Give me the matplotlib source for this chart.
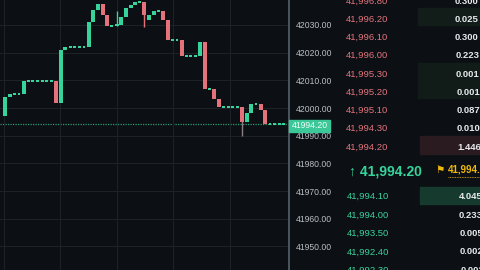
import numpy as np
import matplotlib
matplotlib.use('Agg')
import matplotlib.pyplot as plt
from matplotlib.patches import Rectangle
import matplotlib.transforms as mtransforms

# candle data (price)
opens = [41997.1, 42004.0, 42005.1, 42005.1, 42005.1, 42009.7, 42009.7, 42009.7, 42009.7, 42009.7,
         42009.7, 42009.7, 42001.8, 42020.9, 42022.0, 42022.0, 42022.0, 42022.0, 42022.0, 42031.0,
         42035.4, 42037.5, 42033.6, 42029.6, 42029.6, 42030.0, 42032.9, 42036.1, 42037.2, 42038.3,
         42038.3, 42031.8, 42033.6, 42035.0, 42035.0, 42031.8, 42024.5, 42024.5, 42024.5, 42018.8,
         42018.8, 42018.8, 42018.8, 42023.8, 42006.9, 42006.9, 42003.2, 42000.4, 42000.4, 42000.4,
         42000.4, 42000.4, 41994.9, 41998.2, 42001.4, 42001.4, 41999.3, 41994.2, 41994.2, 41994.2,
         41994.2]
closes = [42004.0, 42005.1, 42005.1, 42005.1, 42009.7, 42009.7, 42009.7, 42009.7, 42009.7, 42009.7,
          42009.7, 42001.8, 42020.9, 42022.0, 42022.0, 42022.0, 42022.0, 42022.0, 42031.0, 42035.4,
          42037.5, 42033.6, 42029.6, 42029.6, 42030.0, 42032.9, 42036.1, 42037.2, 42038.3, 42038.3,
          42033.6, 42033.6, 42035.0, 42035.0, 42031.8, 42024.5, 42024.5, 42024.5, 42018.8, 42018.8,
          42018.8, 42018.8, 42023.8, 42006.9, 42006.9, 42003.2, 42000.4, 42000.4, 42000.4, 42000.4,
          42000.4, 41994.9, 41998.2, 42001.4, 42001.4, 41999.3, 41994.2, 41994.2, 41994.2, 41994.2,
          41994.2]
# candles with visible wicks
wick_idx = [24, 30, 51]
wick_hi = [42035.0, 42038.3, 42000.4]
wick_lo = [42029.6, 42029.2, 41989.9]

last_price = 41994.20
axis_ticks = [41950, 41960, 41970, 41980, 41990, 42000, 42010, 42020, 42030]

ask_prices = ['41,996.80', '41,996.20', '41,996.10', '41,996.00', '41,995.30',
              '41,995.20', '41,995.10', '41,994.30', '41,994.20']
ask_sizes = ['0.300', '0.025', '0.300', '0.223', '0.001', '0.001', '0.087', '0.010', '1.446']
bid_prices = ['41,994.10', '41,994.00', '41,993.50', '41,992.40', '41,992.30']
bid_sizes = ['4.045', '0.233', '0.005', '0.002', '0.002']
mid_price = '↑ 41,994.20'
mark_price = '41,994.20'

BG = '#0c1014'
GREEN = '#38d39a'
RED = '#e3727b'
GRID = '#1c2226'
FONT = 'Liberation Sans'

W, H = 480, 270
fig = plt.figure(figsize=(4.8, 2.7), dpi=100, facecolor=BG)


def fx(x):
    return x / W


def fy(y):
    return 1 - y / H


ax = fig.add_axes([0, 0, fx(289), 1])
ax.set_facecolor(BG)

n = len(opens)
idx = np.arange(n)
o = np.array(opens)
c = np.array(closes)
up = c >= o
flat = np.abs(c - o) < 0.05
lo = np.minimum(o, c)
hgt = np.maximum(np.abs(c - o), 0.6)
lo = np.where(flat, lo - 0.3, lo)
cols = np.where(up, GREEN, RED)
widths = np.where(flat, 0.62, 0.86)

for i, hi, lw in zip(wick_idx, wick_hi, wick_lo):
    ax.vlines(i, lw, hi, color=cols[i] if i != 51 else '#8a7f82', lw=1.0, zorder=2)
ax.bar(idx, hgt, bottom=lo, width=widths, color=cols, edgecolor='none', zorder=3)

ax.axhline(last_price, color=GREEN, lw=0.9, ls=(0, (1, 1)), alpha=0.7, zorder=1)

ax.set_xlim(-1.08, 61.1)
ax.set_ylim(41941.5, 42039.0)
ax.set_yticks(axis_ticks)
ax.yaxis.set_major_formatter(matplotlib.ticker.FormatStrFormatter('%.2f'))
ax.yaxis.tick_right()
ax.tick_params(axis='y', length=0, pad=5, labelsize=6.2, labelcolor='#b8bec4')
for t in ax.get_yticklabels():
    t.set_fontfamily(FONT)
ax.set_xticks([-0.3, 11.8, 24.0, 36.2, 48.3])
ax.tick_params(axis='x', length=0, labelbottom=False)
ax.grid(True, color=GRID, lw=0.8)
for s in ['top', 'bottom', 'left']:
    ax.spines[s].set_visible(False)
ax.spines['right'].set_color('#56636b')
ax.spines['right'].set_linewidth(1.2)

trans = mtransforms.blended_transform_factory(ax.transAxes, ax.transData)
ax.text(1 + 5 / 289, 42040, '42040.00', transform=trans, clip_on=False, fontsize=6.2,
        color='#b8bec4', family=FONT, va='center', ha='left')

# last price label on axis
fig.patches.append(Rectangle((fx(289), fy(132)), fx(41), 12 / H, transform=fig.transFigure,
                             color='#3cc799', zorder=5))
fig.text(fx(309.5), fy(126), f'{last_price:.2f}', color='#eafff6', fontsize=6.2,
         family=FONT, ha='center', va='center', zorder=6)

# depth bars behind sizes
bars = [(418, 8, 17, '#121d1a'), (418, 63, 17, '#111c19'), (418, 81, 17, '#111c19'),
        (420, 136, 18, '#2a1b20'), (420, 187, 17, '#173a2e')]
for x0, y0, h, col in bars:
    fig.patches.append(Rectangle((fx(x0), fy(y0 + h)), fx(W - x0), h / H,
                                 transform=fig.transFigure, color=col, zorder=0))

# order book
for k, (p, s) in enumerate(zip(ask_prices, ask_sizes)):
    y = 1 + k * 18.25
    fig.text(fx(388), fy(y), p, color=RED, fontsize=6.8, family=FONT, ha='right', va='center')
    fig.text(fx(478 + y / 45), fy(y), s, color='#e6e8ea', fontsize=6.8, family=FONT,
             weight='bold', ha='right', va='center')

for k, (p, s) in enumerate(zip(bid_prices, bid_sizes)):
    y = 196.5 + k * 18.5
    fig.text(fx(389), fy(y), p, color=GREEN, fontsize=6.8, family=FONT, ha='right', va='center')
    fig.text(fx(478 + y / 45), fy(y), s, color='#e6e8ea', fontsize=6.8, family=FONT,
             weight='bold', ha='right', va='center')

fig.text(fx(349), fy(171), mid_price, color=GREEN, fontsize=10, family=['Liberation Sans', 'DejaVu Sans'],
         weight='bold', ha='left', va='center')
fig.text(fx(435), fy(170), '⚑', color='#f0b90b', fontsize=7.5, family='DejaVu Sans',
         ha='left', va='center')
fig.text(fx(448), fy(170), mark_price, color='#f0b90b', fontsize=7, family=FONT,
         weight='bold', ha='left', va='center')
fig.lines.append(plt.Line2D([fx(448), fx(480)], [fy(177), fy(177)], transform=fig.transFigure,
                            color='#f0b90b', lw=0.6, ls=(0, (1, 1))))

fig.savefig('out.png', dpi=100, facecolor=BG)
